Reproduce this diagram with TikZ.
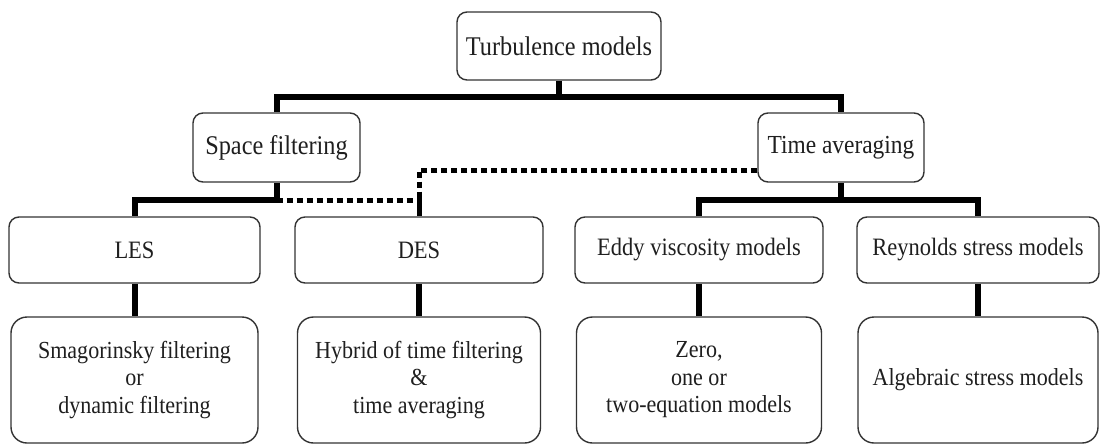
\documentclass[tikz,border=0pt]{standalone}
\usepackage{fontspec}
\setmainfont[FakeStretch=0.9]{Liberation Serif}
\pgfdeclarelayer{paper}
\pgfdeclarelayer{bg}
\pgfsetlayers{paper,bg,main}
\begin{document}
\begin{tikzpicture}[x=1pt,y=-1pt,
  box/.style={draw=black!80, line width=1.4pt, fill=white, rounded corners=10pt,
    inner sep=0pt, align=center, text=black!88},
  bigbox/.style={box, rounded corners=16pt, minimum height=126pt,
    font=\fontsize{24.5}{27.5}\selectfont},
  midbox/.style={box, minimum height=66pt, font=\fontsize{25}{28}\selectfont},
  upbox/.style={box, minimum height=69pt, font=\fontsize{27}{30}\selectfont},
  conn/.style={line width=6pt, black, line join=miter},
  dotconn/.style={line width=5pt, black, dash pattern=on 6.5pt off 3.5pt}
]
\useasboundingbox (0,0) rectangle (1101,445);
\begin{pgfonlayer}{paper}
\fill[white] (0,0) rectangle (1101,445);
\end{pgfonlayer}

% boxes
\node[upbox, minimum width=204pt, minimum height=68pt] (top) at (559,46) {Turbulence models};
\node[upbox, minimum width=167pt] (space) at (276.5,147.5) {Space filtering};
\node[upbox, minimum width=166pt, font=\fontsize{26}{30}\selectfont] (time) at (841,147.5) {Time averaging};

\node[midbox, minimum width=251pt] (les) at (134.5,250) {LES};
\node[midbox, minimum width=248pt] (des) at (419,250) {DES};
\node[midbox, minimum width=248pt] (eddy) at (699,250) {Eddy viscosity models};
\node[midbox, minimum width=242pt] (rey) at (978,250) {Reynolds stress models};

\node[bigbox, minimum width=247pt] (les2) at (134.5,380) {Smagorinsky filtering\\or\\dynamic filtering};
\node[bigbox, minimum width=243pt] (des2) at (419,380) {Hybrid of time filtering\\\&\\time averaging};
\node[bigbox, minimum width=245pt] (eddy2) at (699,380) {Zero,\\one or\\two-equation models};
\node[bigbox, minimum width=240pt] (rey2) at (978,380) {Algebraic stress models};

% junction coordinates
\coordinate (j1) at (top.south |- 0,97);
\coordinate (j2) at (space.south |- 0,200);
\coordinate (j3) at (time.south |- 0,200);
\coordinate (tdot) at (time.west |- 0,170);

% connectors
\begin{pgfonlayer}{bg}
\draw[conn] (top) -- (j1);
\draw[conn] (space) |- (j1) -| (time);
\draw[conn] (space) -- (j2) -| (les);
\draw[conn] (time) -- (j3);
\draw[conn] (eddy) |- (j3) -| (rey);
\draw[conn] (les) -- (les2);
\draw[conn] (des) -- (des2);
\draw[conn] (eddy) -- (eddy2);
\draw[conn] (rey) -- (rey2);
\end{pgfonlayer}

% dotted connectors
\draw[dotconn] (j2) -| (des.north);
\draw[dotconn] (tdot) -| (des.north);
\end{tikzpicture}
\end{document}
